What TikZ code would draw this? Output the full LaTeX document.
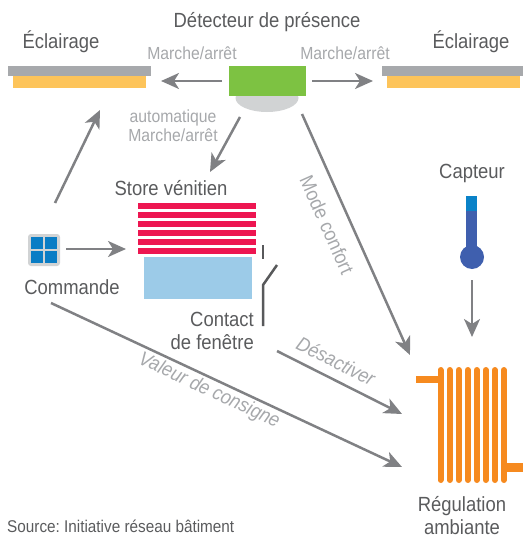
\documentclass[tikz,border=0pt]{standalone}
\usepackage{fontspec}
\setmainfont[FakeStretch=0.9]{Liberation Sans}
\usetikzlibrary{arrows.meta}
\frenchspacing
\definecolor{txtdark}{HTML}{5A5B5D}
\definecolor{txtlight}{HTML}{A6A8AB}
\definecolor{arrgray}{HTML}{808184}
\definecolor{lampgray}{HTML}{A7A9AC}
\definecolor{lampyellow}{HTML}{FDC45A}
\definecolor{detgreen}{HTML}{7DC242}
\definecolor{detgray}{HTML}{D1D3D4}
\definecolor{slatred}{HTML}{ED1651}
\definecolor{winblue}{HTML}{9CCBE8}
\definecolor{iconblue}{HTML}{0A7DC5}
\definecolor{thermtop}{HTML}{0A82C8}
\definecolor{thermbody}{HTML}{3F5FAE}
\definecolor{radorange}{HTML}{F68A1F}
\definecolor{contactgray}{HTML}{58595B}
\tikzset{
  big/.style={text=txtdark, font=\fontsize{20.5}{23}\selectfont, inner sep=0pt},
  lbl/.style={text=txtlight, font=\fontsize{17.5}{19}\selectfont, inner sep=0pt},
  rotlbl/.style={text=txtlight, font=\fontsize{20}{22}\selectfont, inner sep=0pt},
  rotlbli/.style={text=txtlight, font=\fontsize{20}{22}\selectfont\itshape, inner sep=0pt},
  arr/.style={draw=arrgray, line width=2.5pt, -{Stealth[length=18pt,width=16pt,inset=5pt]}},
  radbar/.style={draw=radorange, line width=6pt, line cap=round},
}
\begin{document}
\begin{tikzpicture}[x=1pt,y=-1pt]
\useasboundingbox (0,0) rectangle (523,535);
% titles
\node[big] (dettitle) at (267,22) {Détecteur de présence};
\node[big] (ecll) at (61,42) {Éclairage};
\node[big] (eclr) at (471,42) {Éclairage};
\node[lbl] (mal) at (192,53) {Marche/arrêt};
\node[lbl] (mar) at (345,53) {Marche/arrêt};
% lamps
\fill[lampgray] (8,66) rectangle (151,75.5);
\fill[lampyellow] (13,76) rectangle (146,88);
\fill[lampgray] (382,66) rectangle (523,75.5);
\fill[lampyellow] (387,76) rectangle (520,88);
\node[inner sep=0pt, minimum width=143pt, minimum height=22pt] (lampl) at (79.5,77) {};
\node[inner sep=0pt, minimum width=141pt, minimum height=22pt] (lampr) at (452.5,77) {};
% detector
\fill[detgray] (267,98) ellipse [x radius=31.5, y radius=14];
\fill[detgreen] (229,66) rectangle (306,96);
\node[inner sep=0pt, minimum width=77pt, minimum height=46pt] (det) at (267.5,89) {};
% auto label
\node[lbl, align=center] (auto) at (173,126) {automatique\\Marche/arrêt};
% store
\node[big] (storetitle) at (171,188) {Store vénitien};
\foreach \k in {0,...,5}{
  \fill[slatred] (138,203.3+8.9*\k) rectangle (256,209+8.9*\k);
}
\fill[winblue] (144,257) rectangle (252,299);
\node[inner sep=0pt, minimum width=118pt, minimum height=96pt] (store) at (197,251) {};
% contact
\draw[contactgray, line width=2.5pt] (263,245) -- (263,259);
\draw[contactgray, line width=2.5pt] (263,326) -- (263,285) -- (277,265);
\node[big, align=right, anchor=east] (contact) at (254,331) {Contact\\de fenêtre};
% commande
\fill[detgray, rounded corners=3pt] (28,234) rectangle (60,266);
\foreach \i/\j in {0/0,1/0,0/1,1/1}{
  \fill[iconblue] (31+14*\i,237+14*\j) rectangle (43+14*\i,249+14*\j);
}
\node[inner sep=0pt, minimum size=32pt] (cmdicon) at (44,250) {};
\node[big] (cmd) at (72,287) {Commande};
% capteur
\node[big] (capteur) at (472,173) {Capteur};
\fill[thermbody] (466,210) rectangle (477,258);
\fill[thermtop] (466,196) rectangle (477,211);
\fill[thermbody] (472,257) circle (12);
\node[inner sep=0pt, minimum width=24pt, minimum height=73pt] (therm) at (472,232.5) {};
% radiator
\fill[radorange] (416,376) rectangle (441,383);
\fill[radorange] (503,463) rectangle (523,472);
\foreach \k in {0,...,7}{
  \draw[radbar] (440.5+9.05*\k,370) -- (440.5+9.05*\k,480);
}
\node[inner sep=0pt, minimum width=107pt, minimum height=116pt] (rad) at (469.5,425) {};
\node[big, align=center] (regul) at (462,515.5) {Régulation\\ambiante};
% source
\node[text=txtdark, font=\fontsize{17}{19}\selectfont, inner sep=0pt, anchor=west] (source) at (7,526.5) {Source: Initiative réseau bâtiment};
% arrow end coordinates
\coordinate (a1s) at (222,81);  \coordinate (a1e) at (161,81);
\coordinate (a2s) at (312,81);  \coordinate (a2e) at (373,81);
\coordinate (a3s) at (240,117); \coordinate (a3e) at (210,172);
\coordinate (a4s) at (55,203);  \coordinate (a4e) at (100,110);
\coordinate (a5s) at (66,249);  \coordinate (a5e) at (126,249);
\coordinate (a6s) at (472,280); \coordinate (a6e) at (472,337);
\coordinate (a7s) at (302,114); \coordinate (a7e) at (410,355);
\coordinate (a8s) at (277,351); \coordinate (a8e) at (402,414);
\coordinate (a9s) at (51,303);  \coordinate (a9e) at (402,467);
% arrows
\draw[arr] (a1s) -- (a1e);
\draw[arr] (a2s) -- (a2e);
\draw[arr] (a3s) -- (a3e);
\draw[arr] (a4s) -- (a4e);
\draw[arr] (a5s) -- (a5e);
\draw[arr] (a6s) -- (a6e);
\draw[arr] (a7s) -- (a7e);
\draw[arr] (a8s) -- (a8e);
\draw[arr] (a9s) -- (a9e);
% rotated labels
\node[rotlbl, rotate=-65.9] (mode) at (327,225) {Mode confort};
\node[rotlbli, rotate=-26.7] (desact) at (336,361) {Désactiver};
\node[rotlbli, rotate=-25.1] (consigne) at (209,391) {Valeur de consigne};
\end{tikzpicture}
\end{document}
